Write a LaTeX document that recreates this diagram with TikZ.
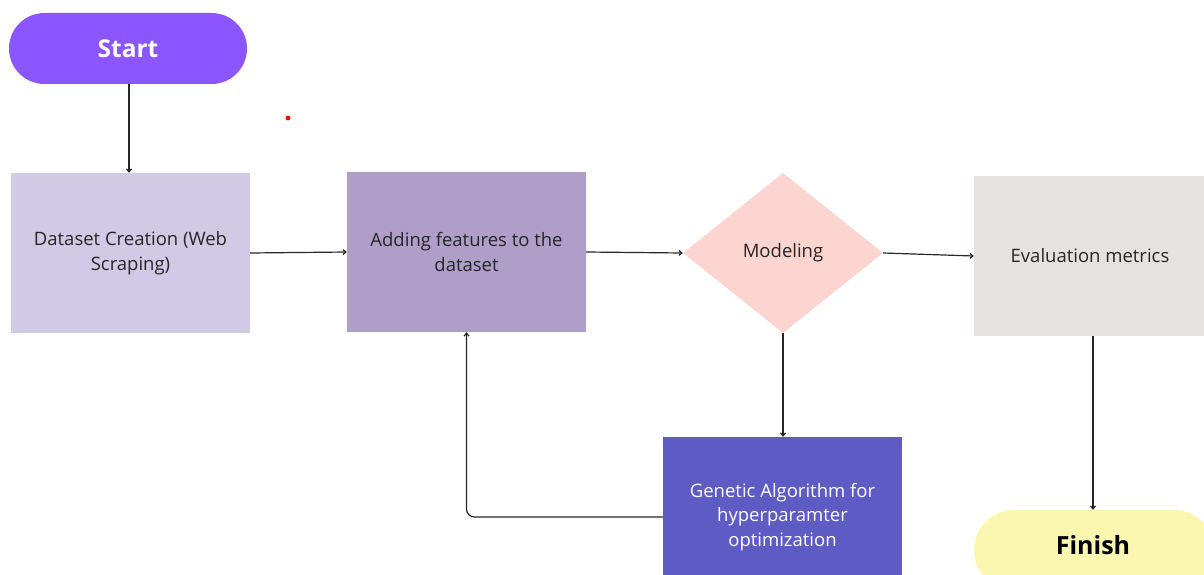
\documentclass[tikz,border=0pt]{standalone}
\usepackage{fontspec}
\setmainfont{Open Sans}
\usetikzlibrary{shapes.geometric,shapes.misc,arrows.meta}
\definecolor{cstart}{HTML}{8B55FF}
\definecolor{cdata}{HTML}{D1C9E5}
\definecolor{cadd}{HTML}{AE9EC8}
\definecolor{cmodel}{HTML}{FDD5D0}
\definecolor{ceval}{HTML}{E6E2E0}
\definecolor{cga}{HTML}{5F5BC4}
\definecolor{cfinish}{HTML}{FBF6B0}
\tikzset{
  txt/.style={font=\fontsize{18.5}{24.5}\selectfont},
  box/.style={rectangle, minimum width=239pt, minimum height=160pt, inner sep=0pt, align=center, txt, text=black!85},
  term/.style={rounded rectangle, minimum width=238pt, minimum height=71pt, inner sep=0pt, font=\fontsize{24.5}{28}\selectfont\bfseries},
  conn/.style={draw=black!85, line width=1.2pt, -{Straight Barb[length=3pt,width=5pt]}},
}
\begin{document}
\begin{tikzpicture}[x=1pt,y=-1pt]
\useasboundingbox (0,0) rectangle (1204,575);
\clip (0,0) rectangle (1204,575);
\node[term, fill=cstart, text=white] (start) at (128,48.5) {Start};
\node[box, fill=cdata] (data) at (130.5,253) {Dataset Creation (Web\\Scraping)};
\node[box, fill=cadd] (add) at (466.5,252) {Adding features to the\\dataset};
\node[diamond, fill=cmodel, minimum width=200pt, minimum height=160pt, inner sep=0pt, aspect=1.25, txt, text=black!85] (model) at (783,253) {Modeling};
\node[box, fill=ceval, minimum width=232pt] (eval) at (1090,256) {Evaluation metrics};
\node[box, fill=cga, text=white, minimum height=178pt] (ga) at (782.5,526) {};
\node[align=center, text=white, txt] (gatext) at (782.5,517) {Genetic Algorithm for\\hyperparamter\\optimization};
\node[term, fill=cfinish, text=black, minimum width=240pt, minimum height=80pt] (finish) at (1094,550) {};
\node[font=\fontsize{25}{28}\selectfont\bfseries] (fintext) at (1093,545) {Finish};
\fill[red] (288,118) circle (2.4pt);
\draw[conn] (start.south -| 129,0) -- (data.north -| 129,0);
\draw[conn] (data.east) -- (add.west);
\draw[conn] (add.east) -- (model.west);
\draw[conn] (model.east) -- (eval.west);
\draw[conn] (model.south) -- (ga.north -| model.south);
\draw[conn] (eval.south -| 1093,0) -- (finish.north -| 1093,0);
\draw[conn, rounded corners=8pt] (ga.west |- gatext) -- (466.5,517) -- (add.south);
\end{tikzpicture}
\end{document}
